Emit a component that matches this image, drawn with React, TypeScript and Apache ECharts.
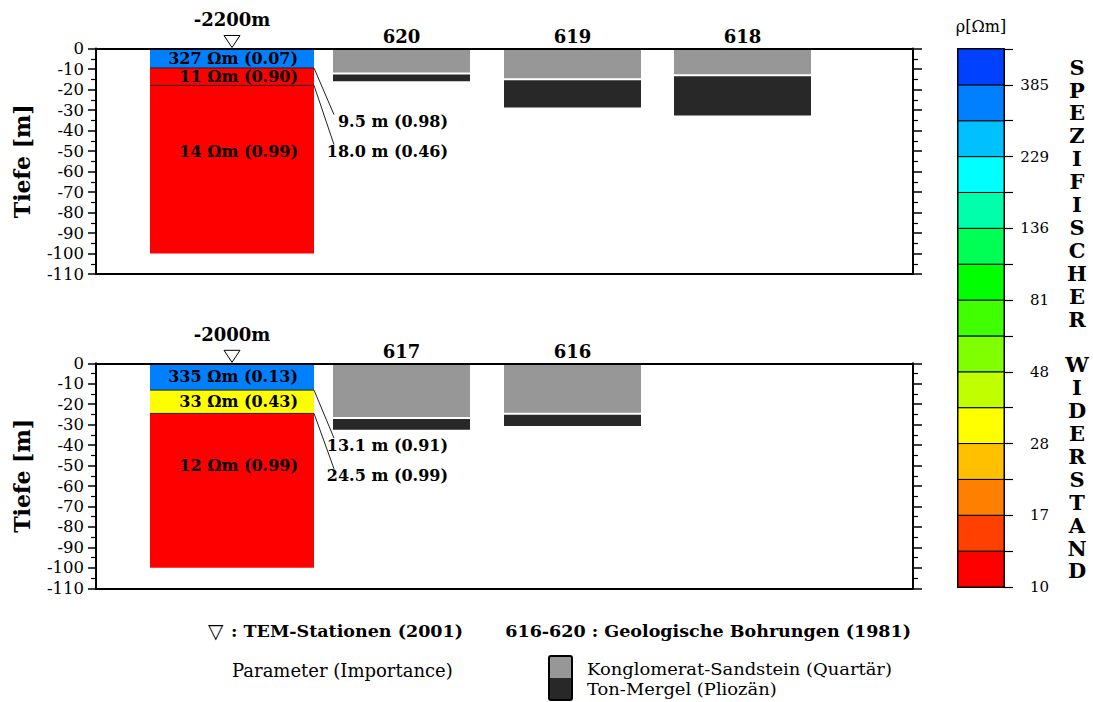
import { useEffect, useRef } from 'react';
import * as echarts from 'echarts';

// ===================== DATA =====================
// resistivity colour scale (bottom -> top) and its tick labels (every 2nd class boundary)
const colorbarTickLabels = [10, 17, 28, 48, 81, 136, 229, 385];
const colorbarColors = [
  '#ff0000', '#ff4000', '#ff8000', '#ffc000', '#ffff00',
  '#c0ff00', '#80ff00', '#40ff00', '#00ff00', '#00ff55',
  '#00ffaa', '#00ffff', '#00c0ff', '#0080ff', '#0040ff',
];

// upper panel: TEM station -2200m and wells 620, 619, 618
const upperStationName = '-2200m';
const upperLayerRho = [327, 11, 14];
const upperLayerRhoImportance = ['0.07', '0.90', '0.99'];
const upperLayerColorClass = [13, 0, 0];
const upperBoundaryDepth = [9.5, 18.0];
const upperBoundaryImportance = ['0.98', '0.46'];
const upperWellNames = ['620', '619', '618'];
const upperWellSandBase = [12.2, 15.0, 13.1];
const upperWellClayBase = [16.0, 28.8, 32.7];

// lower panel: TEM station -2000m and wells 617, 616
const lowerStationName = '-2000m';
const lowerLayerRho = [335, 33, 12];
const lowerLayerRhoImportance = ['0.13', '0.43', '0.99'];
const lowerLayerColorClass = [13, 4, 0];
const lowerBoundaryDepth = [13.1, 24.5];
const lowerBoundaryImportance = ['0.91', '0.99'];
const lowerWellNames = ['617', '616'];
const lowerWellSandBase = [26.7, 24.7];
const lowerWellClayBase = [32.5, 30.7];

const modelBaseDepth = 100;
const depthMin = -110;
const depthMax = 0;
const depthInterval = 10;

// ===================== LAYOUT =====================
const PLOT_W = 817;
const STATION_SPAN = [54, 218];
const WELL_SPANS = [[237, 374], [408, 545], [578, 715]];
const HALFSPACE_LABEL_DEPTH = 50;
const upperDepthLabelAt = [35.7, 50.3];
const lowerDepthLabelAt = [40, 55];

const SERIF = '"DejaVu Serif", serif';
const GRAY = '#979797';
const DARK = '#282828';

function panelAxes(g: number) {
  const lineStyle = { color: '#000', width: 2 };
  const x = [
    {
      type: 'value', gridIndex: g, min: 0, max: PLOT_W, position: 'bottom',
      axisLine: { show: true, onZero: false, lineStyle },
      axisTick: { show: false }, axisLabel: { show: false }, splitLine: { show: false },
    },
    {
      type: 'value', gridIndex: g, min: 0, max: PLOT_W, position: 'top', z: 5,
      axisLine: { show: true, onZero: false, lineStyle },
      axisTick: { show: false }, axisLabel: { show: false }, splitLine: { show: false },
    },
  ];
  const y = [
    {
      type: 'value', gridIndex: g, min: depthMin, max: depthMax, interval: depthInterval, position: 'left',
      name: 'Tiefe [m]', nameLocation: 'middle', nameRotate: 90, nameGap: 63,
      nameTextStyle: { fontFamily: SERIF, fontWeight: 'bold', fontSize: 22, color: '#000' },
      axisLine: { show: true, onZero: false, lineStyle },
      axisTick: { show: true, length: 8, lineStyle: { color: '#000', width: 1.5 } },
      minorTick: { show: true, splitNumber: 2, length: 5, lineStyle: { color: '#000', width: 1.2 } },
      axisLabel: { fontFamily: SERIF, fontSize: 16.5, color: '#000', margin: 12 },
      splitLine: { show: false },
    },
    {
      type: 'value', gridIndex: g, min: depthMin, max: depthMax, interval: depthInterval, position: 'right',
      axisLine: { show: true, onZero: false, lineStyle },
      axisTick: { show: true, length: 9, lineStyle: { color: '#000', width: 1.5 } },
      minorTick: { show: true, splitNumber: 2, length: 5, lineStyle: { color: '#000', width: 1.2 } },
      axisLabel: { show: false },
      splitLine: { show: false },
    },
  ];
  return { x, y };
}

function stationLayerSeries(g: number, rho: number[], imp: string[], cls: number[], bounds: number[]) {
  const tops = [0, ...bounds];
  const bottoms = [...bounds, modelBaseDepth];
  const data = rho.map((_, i) => [STATION_SPAN[0], STATION_SPAN[1], -tops[i], -bottoms[i]]);
  return {
    type: 'custom', xAxisIndex: 2 * g, yAxisIndex: 2 * g, z: 2, clip: false, data,
    renderItem: (params: any, api: any) => {
      const i = params.dataIndex;
      const p0 = api.coord([api.value(0), api.value(2)]);
      const p1 = api.coord([api.value(1), api.value(3)]);
      const last = i === rho.length - 1;
      const ly = last ? api.coord([0, -HALFSPACE_LABEL_DEPTH])[1] : (p0[1] + p1[1]) / 2;
      return {
        type: 'group',
        children: [
          { type: 'rect', shape: { x: p0[0], y: p0[1], width: p1[0] - p0[0], height: p1[1] - p0[1] },
            style: { fill: colorbarColors[cls[i]] } },
          { type: 'text', x: p1[0] - 16, y: ly, z2: 10,
            style: { text: `${rho[i]} Ωm (${imp[i]})`, align: 'right', verticalAlign: 'middle',
              fontFamily: SERIF, fontWeight: 'bold', fontSize: 16, fill: '#000' } },
        ],
      };
    },
  };
}

function boundarySeries(g: number, bounds: number[], imp: string[], labelAt: number[]) {
  const data = bounds.map((d, i) => [STATION_SPAN[0], STATION_SPAN[1], -d, -labelAt[i]]);
  return {
    type: 'custom', xAxisIndex: 2 * g, yAxisIndex: 2 * g, z: 2, clip: false, data,
    renderItem: (params: any, api: any) => {
      const i = params.dataIndex;
      const a = api.coord([api.value(0), api.value(2)]);
      const b = api.coord([api.value(1), api.value(2)]);
      const lab = api.coord([api.value(1), api.value(3)]);
      return {
        type: 'group',
        children: [
          { type: 'line', shape: { x1: a[0], y1: a[1], x2: b[0], y2: b[1] },
            style: { stroke: '#222', lineWidth: 1 } },
          { type: 'line', shape: { x1: b[0], y1: b[1], x2: b[0] + 20, y2: lab[1] - 7 },
            style: { stroke: '#222', lineWidth: 1 } },
          { type: 'text', x: b[0] + 134, y: lab[1],
            style: { text: `${bounds[i].toFixed(1)} m (${imp[i]})`, align: 'right', verticalAlign: 'middle',
              fontFamily: SERIF, fontWeight: 'bold', fontSize: 16, fill: '#000' } },
        ],
      };
    },
  };
}

function stationMarkerSeries(g: number, name: string) {
  const cx = (STATION_SPAN[0] + STATION_SPAN[1]) / 2;
  return {
    type: 'custom', xAxisIndex: 2 * g, yAxisIndex: 2 * g, z: 4, clip: false, data: [[cx, 0]],
    renderItem: (_params: any, api: any) => {
      const p = api.coord([api.value(0), api.value(1)]);
      return {
        type: 'group',
        children: [
          { type: 'polygon', shape: { points: [[p[0] - 8, p[1] - 13], [p[0] + 8, p[1] - 13], [p[0], p[1] - 1]] },
            style: { fill: '#fff', stroke: '#000', lineWidth: 1 } },
          { type: 'text', x: p[0], y: p[1] - 29,
            style: { text: name, align: 'center', verticalAlign: 'middle',
              fontFamily: SERIF, fontWeight: 'bold', fontSize: 18, fill: '#000' } },
        ],
      };
    },
  };
}

function wellSeries(g: number, names: string[], sand: number[], clay: number[]) {
  const data = names.map((_, i) => [WELL_SPANS[i][0], WELL_SPANS[i][1], -sand[i], -clay[i]]);
  return {
    type: 'custom', xAxisIndex: 2 * g, yAxisIndex: 2 * g, z: 2, clip: false, data,
    renderItem: (params: any, api: any) => {
      const i = params.dataIndex;
      const t = api.coord([api.value(0), 0]);
      const s = api.coord([api.value(1), api.value(2)]);
      const c = api.coord([api.value(1), api.value(3)]);
      const w = s[0] - t[0];
      return {
        type: 'group',
        children: [
          { type: 'rect', shape: { x: t[0], y: t[1], width: w, height: s[1] - 1 - t[1] }, style: { fill: GRAY } },
          { type: 'rect', shape: { x: t[0], y: s[1] + 1, width: w, height: c[1] - s[1] - 1 }, style: { fill: DARK } },
          { type: 'text', x: t[0] + w / 2, y: t[1] - 12,
            style: { text: names[i], align: 'center', verticalAlign: 'middle',
              fontFamily: SERIF, fontWeight: 'bold', fontSize: 18, fill: '#000' } },
        ],
      };
    },
  };
}

function buildOption() {
  const up = panelAxes(0);
  const lo = panelAxes(1);
  const cbLine = { color: '#000', width: 2 };
  const xAxis: any[] = [
    ...up.x, ...lo.x,
    { type: 'value', gridIndex: 2, min: 0, max: 1, position: 'bottom',
      axisLine: { show: true, onZero: false, lineStyle: cbLine }, axisTick: { show: false },
      axisLabel: { show: false }, splitLine: { show: false } },
    { type: 'value', gridIndex: 2, min: 0, max: 1, position: 'top',
      name: 'ρ[Ωm]', nameLocation: 'middle', nameGap: 15,
      nameTextStyle: { fontFamily: SERIF, fontSize: 16, color: '#000' },
      axisLine: { show: true, onZero: false, lineStyle: cbLine }, axisTick: { show: false },
      axisLabel: { show: false }, splitLine: { show: false } },
  ];
  const yAxis: any[] = [
    ...up.y, ...lo.y,
    { type: 'value', gridIndex: 2, min: 0, max: colorbarColors.length, interval: 1, position: 'right',
      axisLine: { show: true, onZero: false, lineStyle: cbLine },
      axisTick: { show: true, length: 9, lineStyle: { color: '#000', width: 1.2 } },
      axisLabel: {
        fontFamily: SERIF, fontSize: 15, color: '#000', margin: 45, align: 'right',
        formatter: (v: number) => (v % 2 === 0 && v / 2 < colorbarTickLabels.length ? String(colorbarTickLabels[v / 2]) : ''),
      },
      splitLine: { show: false } },
    { type: 'value', gridIndex: 2, min: 0, max: colorbarColors.length, interval: 1, position: 'left',
      axisLine: { show: true, onZero: false, lineStyle: cbLine }, axisTick: { show: false },
      axisLabel: { show: false }, splitLine: { show: false } },
  ];

  const colorbarSeries = {
    type: 'custom', xAxisIndex: 4, yAxisIndex: 4, z: 1, clip: false,
    data: colorbarColors.map((_, i) => [i, i + 1]),
    renderItem: (params: any, api: any) => {
      const a = api.coord([0, api.value(0)]);
      const b = api.coord([1, api.value(1)]);
      return { type: 'rect', shape: { x: a[0], y: b[1], width: b[0] - a[0], height: a[1] - b[1] },
        style: { fill: colorbarColors[params.dataIndex], stroke: '#000', lineWidth: 1 } };
    },
  };

  const verticalTitle = 'SPEZIFISCHER WIDERSTAND'.split('').join('\n');

  return {
    animation: false,
    backgroundColor: '#fff',
    grid: [
      { left: 96, top: 48.5, width: PLOT_W, height: 225.5 },
      { left: 96, top: 363.3, width: PLOT_W, height: 225 },
      { left: 958, top: 49, width: 46, height: 538 },
    ],
    xAxis,
    yAxis,
    series: [
      stationLayerSeries(0, upperLayerRho, upperLayerRhoImportance, upperLayerColorClass, upperBoundaryDepth),
      boundarySeries(0, upperBoundaryDepth, upperBoundaryImportance, upperDepthLabelAt),
      stationMarkerSeries(0, upperStationName),
      wellSeries(0, upperWellNames, upperWellSandBase, upperWellClayBase),
      stationLayerSeries(1, lowerLayerRho, lowerLayerRhoImportance, lowerLayerColorClass, lowerBoundaryDepth),
      boundarySeries(1, lowerBoundaryDepth, lowerBoundaryImportance, lowerDepthLabelAt),
      stationMarkerSeries(1, lowerStationName),
      wellSeries(1, lowerWellNames, lowerWellSandBase, lowerWellClayBase),
      colorbarSeries,
    ],
    graphic: [
      { type: 'text', x: 1077, y: 319,
        style: { text: verticalTitle, align: 'center', verticalAlign: 'middle', lineHeight: 22.9,
          fontFamily: SERIF, fontWeight: 'bold', fontSize: 21, fill: '#000' } },
      { type: 'text', x: 208, y: 631,
        style: { text: '▽', align: 'left', verticalAlign: 'middle',
          fontFamily: '"DejaVu Sans", sans-serif', fontSize: 20, fill: '#000' } },
      { type: 'text', x: 231, y: 631,
        style: { text: ': TEM-Stationen (2001)', align: 'left', verticalAlign: 'middle',
          fontFamily: SERIF, fontWeight: 'bold', fontSize: 17.5, fill: '#000' } },
      { type: 'text', x: 911, y: 631,
        style: { text: '616-620 : Geologische Bohrungen (1981)', align: 'right', verticalAlign: 'middle',
          fontFamily: SERIF, fontWeight: 'bold', fontSize: 17.5, fill: '#000' } },
      { type: 'text', x: 232, y: 670,
        style: { text: 'Parameter (Importance)', align: 'left', verticalAlign: 'middle',
          fontFamily: SERIF, fontSize: 18, fill: '#000' } },
      { type: 'rect', shape: { x: 549, y: 656, width: 23, height: 22 }, style: { fill: GRAY } },
      { type: 'rect', shape: { x: 549, y: 678, width: 23, height: 22 }, style: { fill: DARK } },
      { type: 'rect', shape: { x: 549, y: 656, width: 23, height: 44, r: 2 },
        style: { fill: 'none', stroke: '#000', lineWidth: 2 } },
      { type: 'text', x: 587, y: 669, scaleX: 1.12,
        style: { text: 'Konglomerat-Sandstein (Quartär)', align: 'left', verticalAlign: 'middle',
          fontFamily: SERIF, fontSize: 16, fill: '#000' } },
      { type: 'text', x: 587, y: 689, scaleX: 1.12,
        style: { text: 'Ton-Mergel (Pliozän)', align: 'left', verticalAlign: 'middle',
          fontFamily: SERIF, fontSize: 16, fill: '#000' } },
    ],
  };
}

export default function App() {
  const ref = useRef<HTMLDivElement>(null);
  useEffect(() => {
    if (!ref.current) return;
    const chart = echarts.init(ref.current, null, { renderer: 'svg' });
    chart.setOption(buildOption() as any);
    return () => chart.dispose();
  }, []);
  return (
    <div
      ref={ref}
      style={{ position: 'fixed', left: 0, top: 0, width: 1093, height: 702, background: '#fff' }}
    />
  );
}
